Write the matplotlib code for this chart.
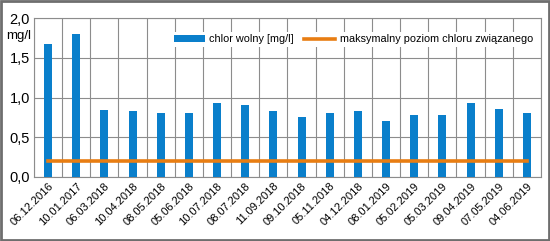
import matplotlib
matplotlib.use("Agg")
import matplotlib.pyplot as plt
import numpy as np

dates = ["06.12.2016", "10.01.2017", "06.03.2018", "10.04.2018", "08.05.2018",
         "05.06.2018", "10.07.2018", "08.07.2018", "11.09.2018", "09.10.2018",
         "05.11.2018", "04.12.2018", "08.01.2019", "05.02.2019", "05.03.2019",
         "09.04.2019", "07.05.2019", "04.06.2019"]
chlor_wolny = [1.67, 1.80, 0.84, 0.83, 0.80, 0.81, 0.93, 0.91, 0.83, 0.75,
               0.80, 0.83, 0.70, 0.78, 0.78, 0.93, 0.85, 0.81]
max_zwiazany = [0.20] * len(dates)
yticks = [0.0, 0.5, 1.0, 1.5, 2.0]
ytick_labels = ["0,0", "0,5", "1,0", "1,5", "2,0"]

plt.rcParams['font.family'] = ['Liberation Sans', 'DejaVu Sans']

fig = plt.figure(figsize=(5.5, 2.41), dpi=100)
ax = fig.add_axes([0.0618, 0.2668, 0.9218, 0.6572])

x = np.arange(len(dates))
bars = ax.bar(x, chlor_wolny, width=0.28, color="#0a7fcb", label="chlor wolny [mg/l]", zorder=3)
line, = ax.plot(x, max_zwiazany, color="#e87d12", lw=2.6,
                label="maksymalny poziom chloru związanego", zorder=4)

ax.set_xlim(-0.5, len(dates) - 0.5)
ax.set_ylim(0, 2.0)
ax.set_yticks(yticks)
ax.set_yticklabels(ytick_labels, fontsize=10.5)
ax.set_xticks(x)
ax.set_xticklabels(dates, rotation=45, ha="right", rotation_mode="anchor", fontsize=8)
ax.set_xticks(np.arange(-0.5, len(dates), 1), minor=True)
ax.tick_params(axis="both", which="both", length=0, pad=3)
ax.grid(True, which="minor", axis="x", color="#8c8c8c", lw=0.8, zorder=0)
ax.grid(True, which="major", axis="y", color="#8c8c8c", lw=0.8, zorder=0)
for s in ax.spines.values():
    s.set_color("#8c8c8c")
    s.set_linewidth(0.8)

fig.text(0.012, 0.85, "mg/l", fontsize=9.5, va="center")

leg = ax.legend([bars, line], [bars.get_label(), line.get_label()],
                loc="upper right", bbox_to_anchor=(1.0, 0.95), ncol=2, frameon=True,
                fontsize=7.8, handlelength=2.9, handleheight=0.55, columnspacing=0.9,
                borderpad=0.25, handletextpad=0.4, fancybox=False)
leg.get_frame().set_edgecolor("none")
leg.get_frame().set_facecolor("white")
leg.get_frame().set_alpha(1)

fig.patches.append(plt.Rectangle((0.002, 0.004), 0.996, 0.992, transform=fig.transFigure,
                                 fill=False, edgecolor="#6e6e6e", lw=2))

fig.savefig("out.png", dpi=100)
